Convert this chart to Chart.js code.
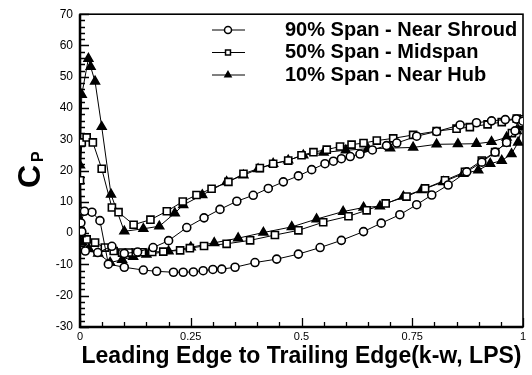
<!DOCTYPE html>
<html>
<head>
<meta charset="utf-8">
<script src="https://cdn.jsdelivr.net/npm/chart.js@4.4.1/dist/chart.umd.min.js"></script>
<style>
  html, body { margin: 0; padding: 0; background: #fff; }
  canvas { display: block; }
</style>
</head>
<body>
<canvas id="cpChart" width="532" height="375"></canvas>
<script>
/* ------------------------------------------------------------
   DATA — Cp along blade, leading edge (0) to trailing edge (1)
   each series runs TE -> LE on one side, then LE -> TE on the other
------------------------------------------------------------ */
const seriesLabels = ["90% Span - Near Shroud", "50% Span - Midspan", "10% Span - Near Hub"];

const shroudX = [0.997, 0.982, 0.963, 0.937, 0.907, 0.873, 0.831, 0.794, 0.760, 0.722, 0.680, 0.640, 0.590, 0.542, 0.493,
                 0.444, 0.395, 0.350, 0.320, 0.300, 0.278, 0.256, 0.233, 0.211, 0.173, 0.143, 0.100, 0.064, 0.045, 0.027,
                 0.010, 0.002, 0.004, 0.012, 0.040, 0.072, 0.100, 0.130, 0.165, 0.200, 0.241, 0.280, 0.316, 0.354, 0.391,
                 0.425, 0.459, 0.493, 0.523, 0.553, 0.572, 0.590, 0.610, 0.632, 0.660, 0.692, 0.715, 0.760, 0.805, 0.858,
                 0.895, 0.929, 0.960, 0.985, 1.000];
const shroudY = [35.3, 32.7, 29.0, 25.9, 22.7, 19.6, 15.4, 12.2, 9.1, 5.9, 3.2, 0.5, -2.3, -4.6, -6.7,
                 -8.3, -9.4, -10.9, -11.5, -11.6, -12.0, -12.4, -12.5, -12.5, -12.2, -11.8, -10.9, -9.9, 4.0, 6.7,
                 7.0, 3.3, 0.5, -5.7, -6.2, -4.2, -6.5, -6.0, -4.6, -2.4, 1.8, 4.9, 7.6, 10.2, 12.1,
                 14.3, 16.4, 18.3, 20.3, 22.2, 23.0, 23.8, 24.5, 25.3, 26.6, 28.0, 28.8, 31.0, 32.5, 34.6,
                 35.3, 35.9, 36.3, 36.5, 35.8];

const midX = [0.993, 0.975, 0.963, 0.937, 0.907, 0.869, 0.824, 0.779, 0.737, 0.690, 0.647, 0.606, 0.549, 0.493, 0.440,
              0.384, 0.331, 0.280, 0.248, 0.226, 0.188, 0.163, 0.140, 0.125, 0.110, 0.095, 0.076, 0.056, 0.034, 0.015,
              0.003, 0.000, 0.000, 0.004, 0.015, 0.029, 0.049, 0.072, 0.087, 0.121, 0.159, 0.196, 0.232, 0.263, 0.297,
              0.335, 0.369, 0.406, 0.436, 0.470, 0.500, 0.527, 0.557, 0.587, 0.613, 0.640, 0.670, 0.707, 0.752, 0.805,
              0.850, 0.880, 0.920, 0.952, 0.986];
const midY = [36.4, 32.0, 29.0, 25.9, 23.2, 19.6, 16.9, 14.3, 11.7, 9.5, 7.3, 5.4, 3.5, 0.9, -0.6,
              -2.3, -3.4, -4.1, -4.8, -5.5, -5.9, -6.0, -6.1, -6.2, -6.2, -6.2, -5.7, -4.6, -3.0, -2.0,
              0.0, 7.0, 16.9, 29.0, 30.6, 29.0, 20.6, 8.2, 6.7, 2.7, 4.3, 7.0, 10.1, 12.2, 14.2,
              16.4, 19.0, 20.8, 22.2, 23.2, 24.9, 25.9, 26.7, 27.7, 28.3, 28.8, 29.6, 30.3, 31.4, 32.6,
              33.4, 33.9, 34.8, 35.5, 36.6];

const hubX = [0.998, 0.989, 0.974, 0.952, 0.926, 0.899, 0.865, 0.820, 0.771, 0.730, 0.677, 0.640, 0.594, 0.534, 0.478,
              0.414, 0.357, 0.303, 0.250, 0.200, 0.150, 0.120, 0.095, 0.068, 0.041, 0.020, 0.005, 0.000, 0.004, 0.019,
              0.024, 0.034, 0.049, 0.070, 0.100, 0.143, 0.179, 0.214, 0.233, 0.276, 0.331, 0.369, 0.402, 0.436, 0.470,
              0.504, 0.550, 0.600, 0.650, 0.700, 0.752, 0.805, 0.853, 0.895, 0.929, 0.963, 0.986, 0.998];
const hubY = [34.0, 29.0, 25.3, 23.2, 22.2, 20.1, 19.0, 16.4, 13.8, 11.7, 8.6, 8.2, 6.9, 4.5, 2.0,
              0.2, -1.6, -3.1, -4.5, -5.8, -6.8, -7.5, -8.5, -9.4, -6.5, -5.0, -3.0, 21.7, 44.3, 55.8,
              53.2, 48.5, 34.0, 12.4, 0.6, 1.4, 2.2, 6.4, 9.0, 12.2, 16.4, 18.5, 20.5, 22.2, 23.3,
              24.9, 25.8, 26.5, 27.0, 27.2, 27.4, 28.4, 28.5, 28.6, 29.2, 30.6, 32.7, 35.0];

const xTickLabels = ["0", "0.25", "0.5", "0.75", "1"];
const yMin = -30, yMax = 70;

const pts = (xs, ys) => xs.map((x, i) => ({ x: x, y: ys[i] }));


/* ------------------------------------------------------------
   FRAME + INWARD TICKS (major & minor)
------------------------------------------------------------ */
const framePlugin = {
    id: "frame",
    beforeDatasetsDraw(chart) {
        const { ctx, chartArea: a, scales: { x, y } } = chart;
        ctx.save();
        ctx.strokeStyle = "#000";
        ctx.lineWidth = 1.3;
        ctx.beginPath();
        for (let v = yMin; v <= yMax; v += 2) {
            const py = Math.round(y.getPixelForValue(v)) + 0.5;
            const len = v % 10 === 0 ? 9 : 5;
            ctx.moveTo(a.left, py);
            ctx.lineTo(a.left + len, py);
        }
        for (let i = 0; i <= 20; i++) {
            const px = Math.round(x.getPixelForValue(i * 0.05)) + 0.5;
            const len = i % 5 === 0 ? 9 : 5;
            ctx.moveTo(px, a.bottom);
            ctx.lineTo(px, a.bottom - len);
        }
        ctx.stroke();

        ctx.lineWidth = 1.6;
        ctx.strokeRect(a.left, a.top, a.right - a.left, a.bottom - a.top);
        ctx.lineWidth = 2.5;
        ctx.beginPath();
        ctx.moveTo(a.left, a.top);
        ctx.lineTo(a.left, a.bottom);
        ctx.lineTo(a.right, a.bottom);
        ctx.stroke();
        ctx.restore();
    }
};


/* ------------------------------------------------------------
   LEGEND (line + marker) AND ROTATED C_P TITLE
------------------------------------------------------------ */
const legendPlugin = {
    id: "cpLegend",
    afterDraw(chart) {
        const ctx = chart.ctx;
        ctx.save();
        chart.data.datasets.forEach((ds, i) => {
            const yy = 30 + i * 22.5;
            ctx.strokeStyle = "#000";
            ctx.lineWidth = 1;
            ctx.beginPath();
            ctx.moveTo(212, yy);
            ctx.lineTo(245, yy);
            ctx.stroke();
            ctx.fillStyle = ds.pointBackgroundColor;
            ctx.lineWidth = 1.5;
            Chart.helpers.drawPoint(ctx, { pointStyle: ds.pointStyle, radius: 3.5, borderWidth: 1.5 }, 228, yy);

            ctx.fillStyle = "#000";
            ctx.font = "bold 20px 'Liberation Sans', Arial, sans-serif";
            ctx.textAlign = "left";
            ctx.textBaseline = "middle";
            ctx.fillText(ds.label, 285, yy);
        });

        // y axis title: C with subscript P, rotated
        ctx.translate(40, 188);
        ctx.rotate(-Math.PI / 2);
        ctx.fillStyle = "#000";
        ctx.textAlign = "left";
        ctx.textBaseline = "alphabetic";
        ctx.font = "bold 32px 'Liberation Sans', Arial, sans-serif";
        ctx.fillText("C", 0, 0);
        const w = ctx.measureText("C").width;
        ctx.font = "bold 16px 'Liberation Sans', Arial, sans-serif";
        ctx.fillText("P", w + 3, 3);
        ctx.restore();
    }
};


/* ------------------------------------------------------------
   BUILD CHART
------------------------------------------------------------ */
const ctx = document.getElementById("cpChart").getContext("2d");

new Chart(ctx, {
    type: "line",
    data: {
        datasets: [
            {
                label: seriesLabels[0],
                data: pts(shroudX, shroudY),
                pointStyle: "circle",
                pointRadius: 4,
                pointBackgroundColor: "#ffffff"
            },
            {
                label: seriesLabels[1],
                data: pts(midX, midY),
                pointStyle: "rect",
                pointRadius: 5,
                pointBackgroundColor: "#ffffff"
            },
            {
                label: seriesLabels[2],
                data: pts(hubX, hubY),
                pointStyle: "triangle",
                pointRadius: 5,
                pointBackgroundColor: "#000000"
            }
        ].map(d => Object.assign(d, {
            borderColor: "#000",
            borderWidth: 1,
            pointBorderColor: "#000",
            pointBorderWidth: 1.6,
            tension: 0
        }))
    },
    options: {
        responsive: false,
        animation: false,
        devicePixelRatio: 1,
        layout: { padding: { top: 10, right: 9, left: 0, bottom: 0 } },
        plugins: {
            legend: { display: false },
            tooltip: { enabled: false }
        },
        scales: {
            x: {
                type: "linear",
                min: 0,
                max: 1,
                afterFit: s => { s.height = 48; },
                afterBuildTicks: s => { s.ticks = xTickLabels.map((t, i) => ({ value: i * 0.25 })); },
                ticks: {
                    color: "#000",
                    padding: 3,
                    maxRotation: 0,
                    font: { family: "'Liberation Sans', Arial, sans-serif", size: 11 },
                    callback: (v, i) => xTickLabels[i]
                },
                grid: { display: false, drawTicks: false },
                border: { display: false },
                title: {
                    display: true,
                    text: "Leading Edge to Trailing Edge(k-w, LPS)",
                    color: "#000",
                    padding: { top: 0, bottom: 5 },
                    font: { family: "'Liberation Sans', Arial, sans-serif", size: 23, weight: "bold", lineHeight: 1.2 }
                }
            },
            y: {
                min: yMin,
                max: yMax,
                afterFit: s => { s.width = 80; },
                ticks: {
                    stepSize: 10,
                    color: "#000",
                    padding: 7,
                    font: { family: "'Liberation Sans', Arial, sans-serif", size: 12 }
                },
                grid: { display: false, drawTicks: false },
                border: { display: false }
            }
        }
    },
    plugins: [framePlugin, legendPlugin]
});
</script>
</body>
</html>
